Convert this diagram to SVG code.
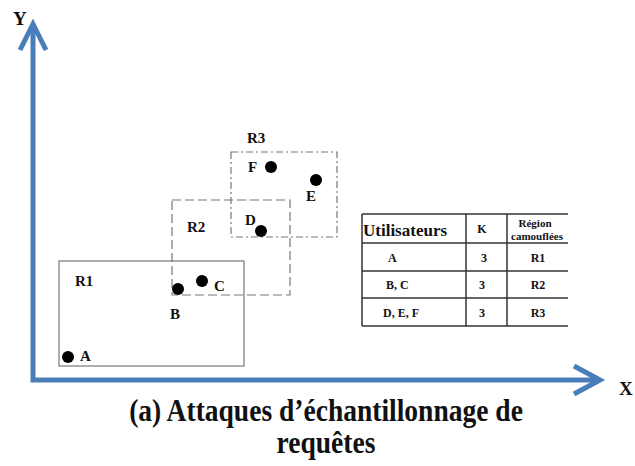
<svg xmlns="http://www.w3.org/2000/svg" width="635" height="466" viewBox="0 0 635 466">
  <style>
    .lbl { font-family: "Liberation Serif", "Times New Roman", serif; font-weight: bold; fill: #111; }
    .pt { font-size: 15px; }
    .cell { font-size: 12px; }
    .axis { fill: none; stroke: #4a7eb9; stroke-width: 5; }
    .region { fill: none; stroke: #777; stroke-width: 1.2; }
    .dot { fill: #000; }
    .grid { stroke: #333; stroke-width: 1.5; fill: none; }
  </style>

  <rect width="635" height="466" fill="#fff"/>

  <!-- axes -->
  <g id="axes">
    <polyline class="axis" points="33,26 33,380 598,380" stroke-linejoin="miter"/>
    <polyline class="axis" points="20,50 33,24 46,50" stroke-linejoin="miter"/>
    <polyline class="axis" points="574,366 600,380 574,394" stroke-linejoin="miter"/>
    <text class="lbl" x="13" y="25" font-size="19">Y</text>
    <text class="lbl" x="619" y="395" font-size="19">X</text>
  </g>

  <!-- regions -->
  <g id="R1">
    <rect class="region" x="59" y="261" width="185" height="105"/>
    <text class="lbl pt" x="75" y="286">R1</text>
  </g>
  <g id="R2">
    <rect class="region" x="172" y="200" width="118" height="95" stroke="#666" stroke-dasharray="9 4"/>
    <text class="lbl pt" x="187" y="232">R2</text>
  </g>
  <g id="R3">
    <rect class="region" x="231" y="152" width="106" height="85" stroke="#666" stroke-dasharray="7 3 2 3"/>
    <text class="lbl pt" x="247" y="143">R3</text>
  </g>

  <!-- users -->
  <g id="A">
    <circle class="dot" cx="68" cy="357" r="6"/>
    <text class="lbl pt" x="80" y="361">A</text>
  </g>
  <g id="B">
    <circle class="dot" cx="178" cy="289" r="6"/>
    <text class="lbl pt" x="170" y="319">B</text>
  </g>
  <g id="C">
    <circle class="dot" cx="202" cy="281" r="6"/>
    <text class="lbl pt" x="214" y="291">C</text>
  </g>
  <g id="D">
    <circle class="dot" cx="261" cy="231" r="6"/>
    <text class="lbl pt" x="245" y="225">D</text>
  </g>
  <g id="E">
    <circle class="dot" cx="316" cy="180" r="6"/>
    <text class="lbl pt" x="306" y="201">E</text>
  </g>
  <g id="F">
    <circle class="dot" cx="271" cy="167" r="6"/>
    <text class="lbl pt" x="248" y="172">F</text>
  </g>

  <!-- table -->
  <g id="table">
    <line class="grid" x1="362" y1="214" x2="568" y2="214"/>
    <line class="grid" x1="362" y1="243" x2="568" y2="243"/>
    <line class="grid" x1="362" y1="271" x2="568" y2="271"/>
    <line class="grid" x1="362" y1="298" x2="568" y2="298"/>
    <line class="grid" x1="362" y1="326" x2="568" y2="326"/>
    <line class="grid" x1="362" y1="214" x2="362" y2="326"/>
    <line class="grid" x1="466" y1="214" x2="466" y2="326"/>
    <line class="grid" x1="507" y1="214" x2="507" y2="326"/>

    <text class="lbl" x="363" y="236" font-size="17">Utilisateurs</text>
    <text class="lbl" x="482" y="233" font-size="12" text-anchor="middle">K</text>
    <text class="lbl" x="535" y="227" font-size="11" text-anchor="middle">Région</text>
    <text class="lbl" x="537" y="240" font-size="11" text-anchor="middle">camouflées</text>

    <text class="lbl cell" x="388" y="262">A</text>
    <text class="lbl cell" x="484" y="262" text-anchor="middle">3</text>
    <text class="lbl cell" x="538" y="262" text-anchor="middle">R1</text>

    <text class="lbl cell" x="386" y="289">B, C</text>
    <text class="lbl cell" x="482" y="289" text-anchor="middle">3</text>
    <text class="lbl cell" x="538" y="289" text-anchor="middle">R2</text>

    <text class="lbl cell" x="383" y="317">D, E, F</text>
    <text class="lbl cell" x="482" y="317" text-anchor="middle">3</text>
    <text class="lbl cell" x="538" y="317" text-anchor="middle">R3</text>
  </g>

  <!-- caption, glyphs stretched slightly taller -->
  <g id="caption">
    <text class="lbl" font-size="27" text-anchor="middle" transform="translate(326 421) scale(1.02 1.15)">(a) Attaques d’échantillonnage de</text>
    <text class="lbl" font-size="27" text-anchor="middle" transform="translate(326 453) scale(1.02 1.15)">requêtes</text>
  </g>
</svg>
